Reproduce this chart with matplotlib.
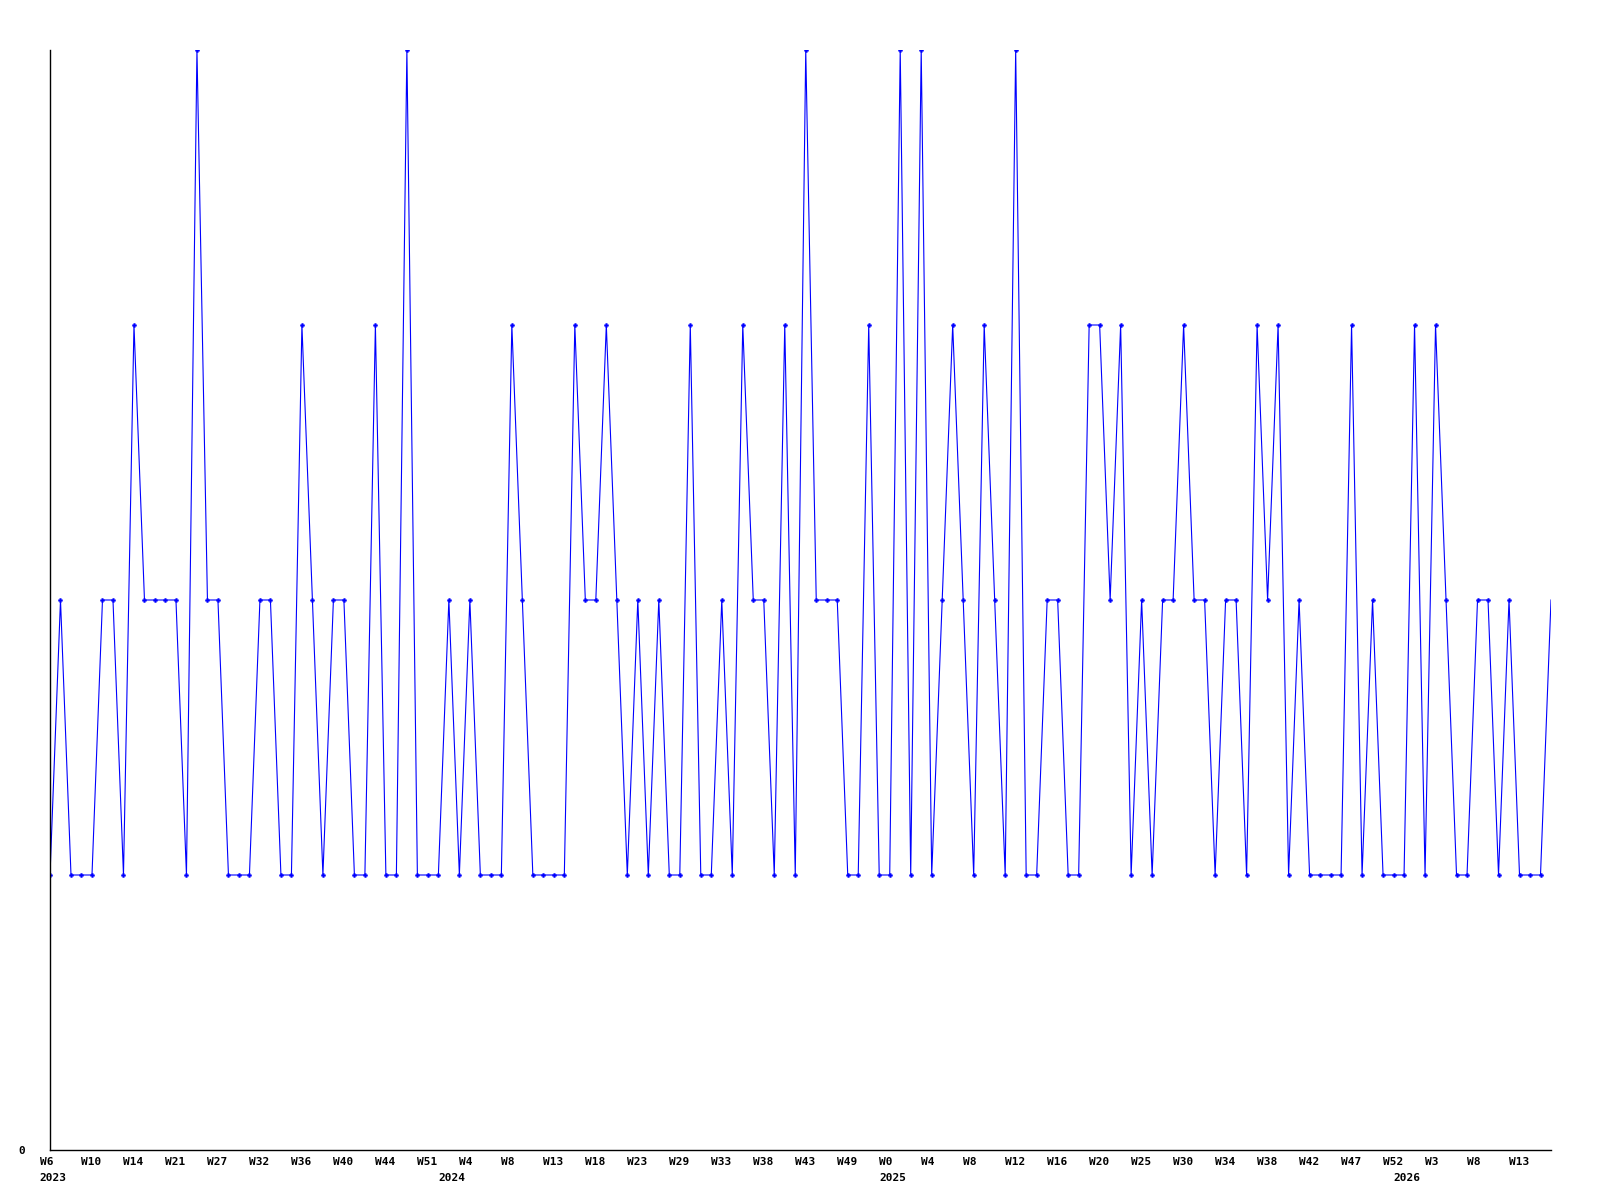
import numpy as np
import matplotlib
matplotlib.use("Agg")
import matplotlib.pyplot as plt
import matplotlib.transforms as mtransforms

# valores semanales (uno por punto)
values = [1, 2, 1, 1, 1, 2, 2, 1, 3, 2, 2, 2, 2, 1, 4, 2, 2, 1, 1, 1,
          2, 2, 1, 1, 3, 2, 1, 2, 2, 1, 1, 3, 1, 1, 4, 1, 1, 1, 2, 1,
          2, 1, 1, 1, 3, 2, 1, 1, 1, 1, 3, 2, 2, 3, 2, 1, 2, 1, 2, 1,
          1, 3, 1, 1, 2, 1, 3, 2, 2, 1, 3, 1, 4, 2, 2, 2, 1, 1, 3, 1,
          1, 4, 1, 4, 1, 2, 3, 2, 1, 3, 2, 1, 4, 1, 1, 2, 2, 1, 1, 3,
          3, 2, 3, 1, 2, 1, 2, 2, 3, 2, 2, 1, 2, 2, 1, 3, 2, 3, 1, 2,
          1, 1, 1, 1, 3, 1, 2, 1, 1, 1, 3, 1, 3, 2, 1, 1, 2, 2, 1, 2,
          1, 1, 1, 2]

# etiquetas de semana, una cada 4 puntos
week_labels = ["W6", "W10", "W14", "W21", "W27", "W32", "W36", "W40", "W44",
               "W51", "W4", "W8", "W13", "W18", "W23", "W29", "W33", "W38",
               "W43", "W49", "W0", "W4", "W8", "W12", "W16", "W20", "W25",
               "W30", "W34", "W38", "W42", "W47", "W52", "W3", "W8", "W13"]
label_step = 4

# años y el primer punto de cada uno
year_labels = ["2023", "2024", "2025", "2026"]
year_starts = [0, 38, 80, 129]

x = np.arange(len(values))

fig = plt.figure(figsize=(16, 12), dpi=100)
ax = fig.add_axes([50 / 1600, 50 / 1200, 1501 / 1600, 1100 / 1200])

ax.plot(x, values, color="#0000ff", linewidth=0.8, marker="P",
        markersize=3, markeredgewidth=0.3,
        markevery=list(range(len(values) - 1)))

ax.set_xlim(0, len(values) - 1)
ax.set_ylim(0, 4)

for side in ["top", "right"]:
    ax.spines[side].set_visible(False)
for side in ["left", "bottom"]:
    ax.spines[side].set_linewidth(1)
    ax.spines[side].set_color("black")

font = dict(family="DejaVu Sans Mono", fontweight="bold", fontsize=8)

ax.set_yticks([0])
ax.set_yticklabels(["0"], **font)
ax.tick_params(axis="y", length=0, pad=18)

ticks = x[::label_step]
ax.set_xticks(ticks)
ax.set_xticklabels(week_labels, ha="left", **font)
ax.tick_params(axis="x", length=0, pad=5)

# las etiquetas empiezan un punto a la izquierda de su marca
shift = mtransforms.ScaledTranslation(-10.5 / 100, 0, fig.dpi_scale_trans)
for lbl in ax.get_xticklabels():
    lbl.set_transform(lbl.get_transform() + shift)

year_shift = mtransforms.ScaledTranslation(-10.5 / 100, -23 / 100, fig.dpi_scale_trans)
for yl, ys in zip(year_labels, year_starts):
    ax.text(ys, 0, yl, ha="left", va="top",
            transform=ax.get_xaxis_transform() + year_shift, **font)

fig.savefig("out.png", dpi=100)
